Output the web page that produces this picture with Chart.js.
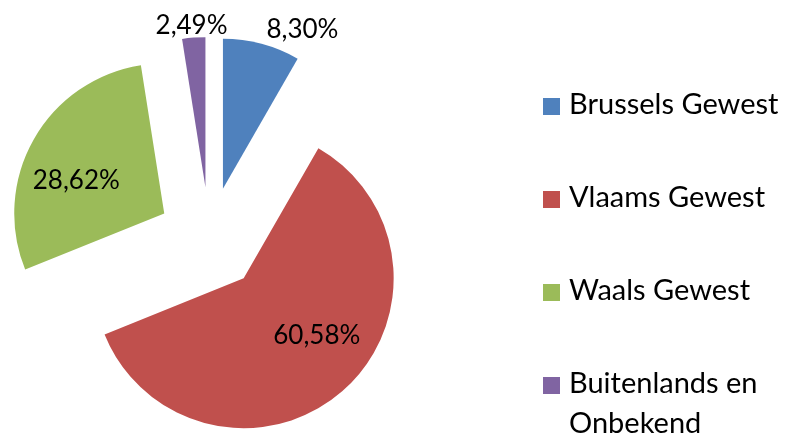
<!DOCTYPE html>
<html>
<head>
<meta charset="utf-8">
<script src="https://cdn.jsdelivr.net/npm/chart.js@4/dist/chart.umd.min.js"></script>
<style>
  html, body { margin: 0; padding: 0; background: #fff; }
  #wrap { position: relative; width: 787px; height: 438px; overflow: hidden; }
  #c { position: absolute; left: 0; top: 0; }
  #legend { position: absolute; left: 543px; top: 86px; width: 244px; font-family: Lato, sans-serif; font-size: 29px; color: #000; }
  .item { display: flex; align-items: flex-start; height: 93px; }
  .sw { width: 17px; height: 17px; flex: 0 0 17px; margin-top: 12px; margin-right: 9px; }
  .txt { width: 215px; line-height: 40px; margin-top: -3px; }
</style>
</head>
<body>
<div id="wrap">
  <canvas id="c" width="787" height="438"></canvas>
  <div id="legend"></div>
</div>
<script>
// ---- data ----
const categories = ["Brussels Gewest", "Vlaams Gewest", "Waals Gewest", "Buitenlands en Onbekend"];
const shares = [8.30, 60.58, 28.62, 2.49];
const colors = ["#4F81BD", "#C0504D", "#9BBB59", "#8064A2"];

// ---- style ----
const EXPLODE = 52;
const labelRadius = [1.1, 0.6, 0.62, 1.1];
const labelNudge = [[37, -1], [14, -11], [-7, 12], [-1, 2]];
const LABEL_FONT = 26;

const explodePlugin = {
  id: 'explode',
  beforeDatasetDraw(chart, args) {
    const ctx = chart.ctx;
    args.meta.data.forEach(arc => {
      const p = arc.getProps(['startAngle', 'endAngle'], true);
      const mid = (p.startAngle + p.endAngle) / 2;
      ctx.save();
      ctx.translate(Math.cos(mid) * EXPLODE, Math.sin(mid) * EXPLODE);
      arc.draw(ctx);
      ctx.restore();
    });
    return false;
  }
};

const labelPlugin = {
  id: 'pctLabels',
  afterDatasetsDraw(chart) {
    const ctx = chart.ctx;
    const meta = chart.getDatasetMeta(0);
    const vals = chart.data.datasets[0].data;
    ctx.save();
    ctx.font = LABEL_FONT + 'px Lato, sans-serif';
    ctx.fillStyle = '#000';
    ctx.textAlign = 'center';
    ctx.textBaseline = 'alphabetic';
    meta.data.forEach((arc, i) => {
      const p = arc.getProps(['x', 'y', 'startAngle', 'endAngle', 'outerRadius'], true);
      const mid = (p.startAngle + p.endAngle) / 2;
      const r = EXPLODE + labelRadius[i] * p.outerRadius;
      const x = p.x + Math.cos(mid) * r + labelNudge[i][0];
      const y = p.y + Math.sin(mid) * r + labelNudge[i][1];
      const txt = vals[i].toFixed(2).replace('.', ',') + '%';
      ctx.fillText(txt, x, y + 0.36 * LABEL_FONT);
    });
    ctx.restore();
  }
};

const chart = new Chart(document.getElementById('c'), {
  type: 'pie',
  data: {
    labels: categories,
    datasets: [{ data: shares, backgroundColor: colors, borderWidth: 0 }]
  },
  options: {
    responsive: false,
    devicePixelRatio: 1,
    animation: false,
    events: [],
    layout: { padding: { left: 59.5, right: 427.5, top: 89, bottom: 49 } },
    plugins: { legend: { display: false }, tooltip: { enabled: false } }
  },
  plugins: [explodePlugin, labelPlugin]
});

// HTML legend built from the chart data
const leg = document.getElementById('legend');
chart.data.labels.forEach((lab, i) => {
  const it = document.createElement('div');
  it.className = 'item';
  const sw = document.createElement('div');
  sw.className = 'sw';
  sw.style.background = chart.data.datasets[0].backgroundColor[i];
  const t = document.createElement('div');
  t.className = 'txt';
  t.textContent = lab;
  it.appendChild(sw); it.appendChild(t);
  leg.appendChild(it);
});
</script>
</body>
</html>
